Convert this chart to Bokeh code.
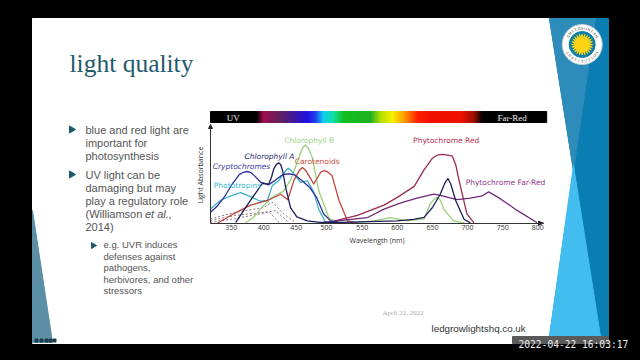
import numpy as np
from bokeh.plotting import figure
from bokeh.models import Range1d, LinearAxis, FixedTicker
from bokeh.core.properties import value
from bokeh.embed import file_html
from bokeh.resources import INLINE

# ---- chart data ----
crypto_nm = [334,344,355,365,375,381,386,391,395,406,417,425,435,440,445,450,455,465,475,485,495,505,515,525]
crypto_abs = [14,22,35,50,62,65,66,65,62,52,49,54,61,62.5,63,62.5,61,54,46,33,12,3,1,0]
chla_nm = [370,391,408,417,421,424,428,431,434,437,441,448,457,472,490,520,560,600,623,638,650,661,668,672,676,683,695,704]
chla_abs = [1,29,51,50,59,69,75,77,75,66,46,20,8,3,1,1,2,3,5,7.5,20,37,52,57,50,29,5,0.5]
photo_nm = [334,348,363,377,391,405,415,422,431,438,442,445,448,455,462,472,481,488,498]
photo_abs = [18,29,35,39,34,28,29,48,54,63,68,70,68,61,52,54,40,18,1]
carot_nm = [344,367,391,415,434,444,453,461,465,469,474,481,491,495,500,507,517,529,543]
carot_abs = [0,12,23,29,37,30,55,68,71,68,61,50,65,67,66,61,29,3,0]
chlb_nm = [384,396,410,422,438,448,460,465,469,473,479,488,503,519,543,567,590,614,638,647,653,658,662,666,680,695]
chlb_abs = [0.5,8,23,33,41,55,84,96,100,96,84,42,6,0.5,1,3,7,3,5.5,25,31,33,28,18,3,0]
dash1_nm = [334,370,410,422,438,455]
dash1_abs = [5.5,14,20,27,12,1]
dash2_nm = [334,370,410,427,446]
dash2_abs = [3.4,10,14,16,0.5]
dash3_nm = [334,370,405,418,432]
dash3_abs = [1,6,12,14,0.5]
phyr_nm = [510,543,581,600,624,638,650,657,665,678,683,688,699,709]
phyr_abs = [2.5,10,23,33,47,68,83,87,88,86,75,54,12,0.5]
phyfr_nm = [495,557,581,605,628,652,664,685,704,721,730,747,771,799]
phyfr_abs = [1,7,18,26,32,37,35,30,32,35,40,31,16,0.5]

tick_labels = ["350","400","450","500","550","600","650","700","750","800"]
tick_places = [363.6,410,456,499.2,550,600,650,700,750,800]

# ---- calibration of the page ----
PX_PER_NM = 0.7027
PX_PER_ABS = 0.7833
nm0_px, abs0_px = 361.7, 222.7
L, R, T, B = 0, 640, 0, 360

p = figure(width=R-L, height=B-T, output_backend="svg", toolbar_location=None,
           x_range=Range1d(L, R), y_range=Range1d(B, T), min_border=0,
           x_axis_type=None, y_axis_type=None, background_fill_color="black",
           border_fill_color="black", outline_line_color=None)
p.grid.visible = False
p.extra_x_ranges["wl"] = Range1d(550+(L-nm0_px)/PX_PER_NM, 550+(R-nm0_px)/PX_PER_NM)
p.extra_y_ranges["abs"] = Range1d((abs0_px-B)/PX_PER_ABS, (abs0_px-T)/PX_PER_ABS)

def txt(x, y, s, size, color, font="Liberation Sans", style="normal", align="left", angle=0):
    p.text([x], [y], text=[s], text_font=value(font), text_font_size=f"{size}px",
           text_color=color, text_font_style=style, text_align=align,
           text_baseline="middle", angle=angle)

# ---- slide ----
p.patch([32,549,573,548,32], [18,18,170,343,343], color="white")
p.patch([549,608,608,548,573], [18,18,343,343,170], color="#0a7db2")
p.patch([549,595,573], [18,18,170], color="#2d8cba")
p.patch([573,600,604,548], [165,336,343,343], color="#43bdf0")
p.patch([32,52,32], [210,342,342], color="#5b8fa5")
p.scatter([36,41,46,50,54], [340,340,340,340,340], size=3, color="#1d3a48", marker="square")
p.quad(left=[512], right=[608], top=[336], bottom=[343], color="#5a5a5a")

# logo
cx, cy = 581.7, 44
p.scatter([cx],[cy], size=40, color="white", line_color="#c8d0d4", line_width=1)
p.scatter([cx],[cy], size=26, color="#0f7fa8")
th = np.linspace(0, 2*np.pi, 49)[:-1]
rad = np.where(np.arange(48) % 2 == 0, 10.5, 6.5)
p.patch(cx+rad*np.cos(th), cy+rad*np.sin(th), color="#fbd312")
for word, start, step, flip in (("SMITHSONIAN", -150, 12, 1), ("INSTITUTION", 150, -12, -1)):
    for i, ch in enumerate(word):
        a = np.radians(start + i*step)
        p.text([cx+16.5*np.cos(a)], [cy+16.5*np.sin(a)], text=[ch], text_font=value("Liberation Serif"),
               text_font_size="4px", text_color="#333", text_align="center", text_baseline="middle",
               angle=-(a+np.pi/2) if flip == 1 else -(a-np.pi/2))

# title and bullets
txt(69, 63, "light quality", 25.5, "#1f5a6a", font="Liberation Serif")
for y in (129, 174):
    p.patch([69,75,69], [y-3.5,y,y+3.5], color="#1f5a6a")
p.patch([91,96,91], [242,245,248], color="#1f5a6a")
for y, s in zip((129,142,155), ("blue and red light are","important for","photosynthesis")):
    txt(85, y, s, 11, "#555555")
for y, s in zip((174,187,200,226), ("UV light can be","damaging but may","play a regulatory role","2014)")):
    txt(85, y, s, 11, "#555555")
txt(85, 213, "(Williamson", 11, "#555555")
txt(144.5, 213, "et al.", 11, "#555555", style="italic")
txt(168, 213, ",", 11, "#555555")
for y, s in zip((244,256,267,279,290), ("e.g. UVR induces","defenses against","pathogens,","herbivores, and other","stressors")):
    txt(103, y, s, 9.5, "#555555")
txt(382, 312, "April 22, 2022", 7, "#aaaaaa", font="Liberation Serif")
txt(431, 328, "ledgrowlightshq.co.uk", 9.8, "#333333")
txt(518, 344, "2022-04-22 16:03:17", 9.6, "#eeeeee", font="DejaVu Sans Mono")

# spectrum bar
stops_x = [210,256,263,280,307,315,323,333,343,370,380,392,403,417,430,460,473,482,546]
stops_c = ["#000000","#000000","#a01050","#602060","#2010e0","#2040f0","#10d0f0","#10e0a0","#10c020","#20b020",
           "#b0e000","#f8f000","#ffa000","#ff2000","#f01000","#f01000","#a01000","#000000","#000000"]
rgb = np.array([[int(c[i:i+2],16) for i in (1,3,5)] for c in stops_c])
xs = np.arange(210, 546)
cols = ["#%02x%02x%02x" % tuple(int(np.interp(x, stops_x, rgb[:,k])) for k in range(3)) for x in xs]
p.quad(left=xs, right=xs+1.2, top=111, bottom=122, color=cols)
txt(232.7, 117.3, "UV", 9, "#eeeeee", font="Liberation Serif", align="center")
txt(511.7, 117.3, "Far-Red", 9, "#eeeeee", font="Liberation Serif", align="center")

# axes
xax = LinearAxis(x_range_name="wl", fixed_location=abs0_px, bounds=(334,808),
                 ticker=FixedTicker(ticks=tick_places),
                 major_label_overrides=dict(zip(tick_places, tick_labels)),
                 major_tick_line_color=None, minor_tick_line_color=None,
                 major_tick_out=0, major_tick_in=0,
                 major_label_text_font_size="7px", major_label_text_color="#333333",
                 major_label_text_font="Open Sans", major_label_standoff=2,
                 axis_label="Wavelength (nm)", axis_label_text_font_size="7px",
                 axis_label_text_font="Open Sans", axis_label_text_font_style="normal",
                 axis_label_text_color="#333333", axis_label_standoff=2,
                 axis_line_color="#333333", axis_line_width=1)
p.add_layout(xax, "below")
yax = LinearAxis(y_range_name="abs", fixed_location=210, bounds=(0,123),
                 ticker=FixedTicker(ticks=[]), major_tick_line_color=None, minor_tick_line_color=None,
                 major_tick_out=0, major_tick_in=0,
                 major_label_text_color=None,
                 axis_label="Light Absorbance", axis_label_text_font_size="7px",
                 axis_label_text_font="Open Sans", axis_label_text_font_style="normal",
                 axis_label_text_color="#333333", axis_label_standoff=6,
                 axis_line_color="#333333", axis_line_width=1)
p.add_layout(yax, "left")
p.patch([208,212,210], [128,128,124], color="#222222")
p.patch([538,538,543], [220.7,224.7,222.7], color="#222222")

# curves
def curve(nm, ab, color, width=1.3, dash="solid"):
    p.line(nm, ab, x_range_name="wl", y_range_name="abs", line_color=color, line_width=width,
           line_dash=dash, line_join="round")

curve(dash1_nm, dash1_abs, "#6b4b55", 0.8, "2 2")
curve(dash2_nm, dash2_abs, "#6b4b55", 0.8, "2 2")
curve(dash3_nm, dash3_abs, "#6b4b55", 0.8, "2 2")
curve(chlb_nm, chlb_abs, "#9bd07a")
curve(photo_nm, photo_abs, "#3fb3c9")
curve(carot_nm, carot_abs, "#c0453a")
curve(phyr_nm, phyr_abs, "#9c2c4e")
curve(phyfr_nm, phyfr_abs, "#6f2a78")
curve(crypto_nm, crypto_abs, "#2e2e9e")
curve(chla_nm, chla_abs, "#1c1f5c")

labels = [("Chlorophyll B",308.7,139.7,"#a3d184","normal"),("Chlorophyll A",269,155.7,"#2b2b6e","italic"),
          ("Cryptochromes",241,165.7,"#3a3aa0","italic"),("Carotenoids",316.7,161.3,"#c8523c","normal"),
          ("Phototropins",237,185,"#3cb8d0","normal"),("Phytochrome Red",445.7,139.7,"#b5304f","normal"),
          ("Phytochrome Far-Red",505,182,"#8e3a8e","normal")]
for s, x, y, c, st in labels:
    txt(x, y, s, 7.5, c, font="DejaVu Sans", style=st, align="center")

html = file_html(p, INLINE).replace("<body>", '<body style="background:#000">')
open("out.html", "w").write(html)
